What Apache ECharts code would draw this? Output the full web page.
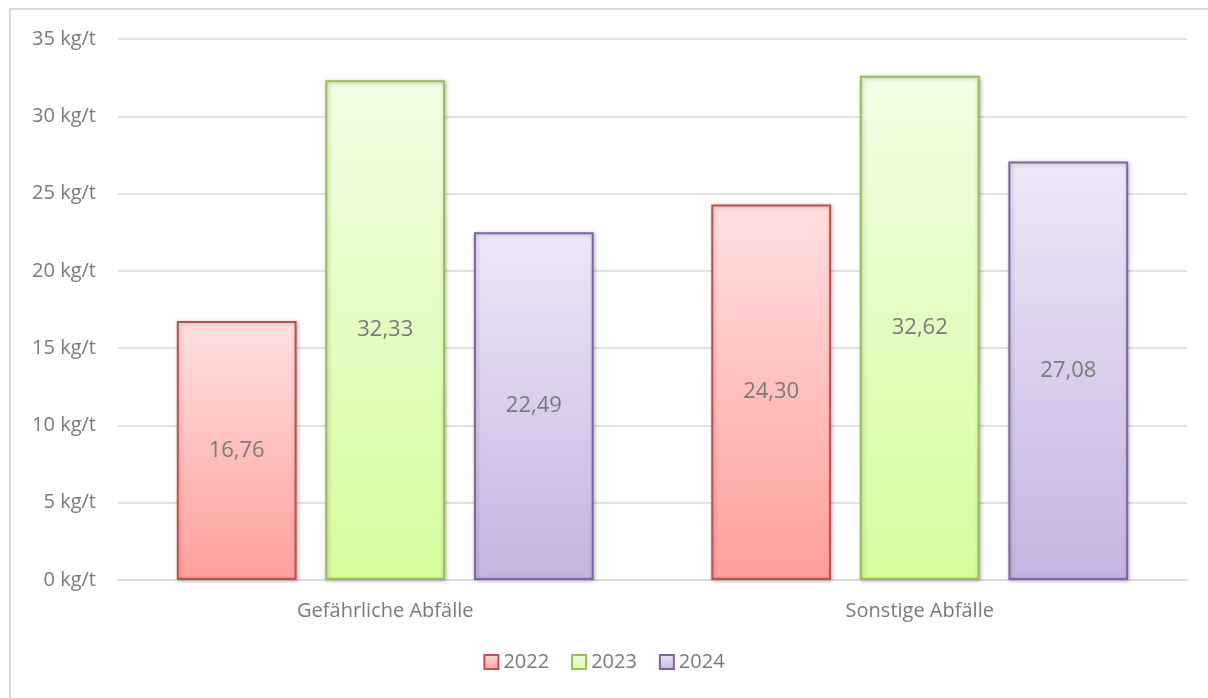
<!DOCTYPE html>
<html>
<head>
<meta charset="utf-8">
<script src="https://cdn.jsdelivr.net/npm/echarts@6/dist/echarts.min.js"></script>
<style>
  html, body { margin: 0; padding: 0; background: #fff; }
  #chart { width: 1208px; height: 698px; }
</style>
</head>
<body>
<div id="chart"></div>
<script>
var categories = ["Gefährliche Abfälle", "Sonstige Abfälle"];
var years = ["2022", "2023", "2024"];
var values2022 = [16.76, 24.30];
var values2023 = [32.33, 32.62];
var values2024 = [22.49, 27.08];

// border colour, gradient top, gradient bottom
var palette = [
    ["#C0504D", "#FFE0E0", "#FF9F9C"],
    ["#9BBB59", "#F1FFE5", "#D6FC9C"],
    ["#8064A2", "#EEE8F7", "#C6B3E2"]
];

var FONT = "'Open Sans', 'Liberation Sans', sans-serif";
var myChart = echarts.init(document.getElementById("chart"));

function makeSeries(name, data, col) {
    return {
        name: name,
        type: "bar",
        data: data,
        barGap: "24%",
        barCategoryGap: "22%",
        itemStyle: {
            color: new echarts.graphic.LinearGradient(0, 0, 0, 1, [
                { offset: 0, color: col[1] },
                { offset: 1, color: col[2] }
            ]),
            borderColor: col[0],
            borderWidth: 2,
            shadowColor: "rgba(0,0,0,0.25)",
            shadowBlur: 4,
            shadowOffsetX: 1,
            shadowOffsetY: 1
        },
        label: {
            show: true,
            position: "inside",
            color: "#7a7a7a",
            fontSize: 22,
            fontFamily: FONT,
            formatter: function (p) {
                return p.value.toFixed(2).replace(".", ",");
            }
        }
    };
}

var option = {
    animation: false,
    textStyle: { fontFamily: FONT },
    graphic: [{
        type: "rect",
        shape: { x: 10, y: 9, width: 1400, height: 900 },
        style: { fill: "none", stroke: "#d9d9d9", lineWidth: 2 },
        silent: true
    }],
    grid: { left: 118, right: 21, top: 39, bottom: 118 },
    legend: {
        bottom: 21,
        left: "center",
        icon: "rect",
        itemWidth: 14,
        itemHeight: 14,
        itemGap: 22,
        textStyle: { color: "#7a7a7a", fontSize: 20, fontFamily: FONT },
        data: years
    },
    xAxis: {
        type: "category",
        data: categories,
        axisLine: { lineStyle: { color: "#d9d9d9", width: 1.5 } },
        axisTick: { show: false },
        axisLabel: { color: "#7a7a7a", fontSize: 20, margin: 21, fontFamily: FONT }
    },
    yAxis: {
        type: "value",
        min: 0,
        max: 35,
        interval: 5,
        axisLine: { show: false },
        axisTick: { show: false },
        splitLine: { lineStyle: { color: "#d9d9d9", width: 1.5 } },
        axisLabel: {
            color: "#7a7a7a",
            fontSize: 20,
            margin: 22,
            fontFamily: FONT,
            formatter: "{value} kg/t"
        }
    },
    series: [
        makeSeries(years[0], values2022, palette[0]),
        makeSeries(years[1], values2023, palette[1]),
        makeSeries(years[2], values2024, palette[2])
    ]
};

myChart.setOption(option);
window.addEventListener("resize", function () {
    myChart.resize();
});
</script>
</body>
</html>
